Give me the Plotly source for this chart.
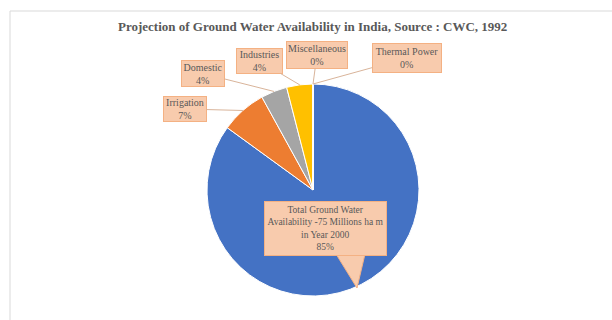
import math
import plotly.graph_objects as go

# ---- data ----
categories = ["Total Ground Water Availability -75 Millions ha m in Year 2000",
              "Irrigation", "Domestic", "Industries", "Miscellaneous", "Thermal Power"]
box_texts = ["Total Ground Water<br>Availability -75 Millions ha m<br>in Year 2000",
             "Irrigation", "Domestic", "Industries", "Miscellaneous", "Thermal Power"]
values = [85, 7, 4, 4, 0, 0]
colors = ["#4472C4", "#ED7D31", "#A5A5A5", "#FFC000", "#5B9BD5", "#70AD47"]
title = "Projection of Ground Water Availability in India, Source : CWC, 1992"

W, H = 612, 320
CX, CY, R = 313, 190, 106  # pie centre / radius in px


def px(x, y):
    return x / W, 1 - y / H


fig = go.Figure()
x0, y0 = px(CX - R, CY + R)
x1, y1 = px(CX + R, CY - R)
fig.add_trace(go.Pie(
    labels=categories, values=values, sort=False, direction="clockwise", rotation=0,
    marker=dict(colors=colors, line=dict(color="white", width=1)),
    textinfo="none", hoverinfo="label+percent", showlegend=False,
    domain=dict(x=[x0, x1], y=[y0, y1]),
))

total = sum(values)
pcts = [f"{round(v / total * 100)}%" for v in values]

# label box layout: centre px, width, height
box_layout = [
    (325.5, 228.5, 121, 53),
    (185, 109, 42, 24),
    (203, 73.5, 42, 25),
    (259.5, 61, 45, 24),
    (317, 55, 60, 26),
    (407, 58, 68, 28),
]

font = dict(family="Liberation Serif", size=10, color="#595959")
font_main = dict(family="Liberation Serif", size=9.5, color="#595959")
box_fill = "#F8CBAD"
box_line = "#F4B183"

cum = 0.0
for i, v in enumerate(values):
    mid = (cum + v / 2) / total
    cum += v
    bx, by, bw, bh = box_layout[i]
    text = f"{box_texts[i]}<br>{pcts[i]}"
    if i == 0:
        fx, fy = px(bx, by)
        fig.add_annotation(x=fx, y=fy, xref="paper", yref="paper", text=text,
                           showarrow=False, font=font_main, bgcolor=box_fill,
                           bordercolor=box_line, borderwidth=1, width=bw - 2, height=bh - 2,
                           xanchor="center", yanchor="middle")
        continue
    ang = mid * 2 * math.pi
    tx = CX + R * math.sin(ang)
    ty = CY - R * math.cos(ang)
    fx, fy = px(tx, ty)
    fig.add_annotation(x=fx, y=fy, xref="paper", yref="paper", text=text,
                       showarrow=True, arrowhead=0, arrowwidth=1, arrowcolor="#D9B49A",
                       ax=bx - tx, ay=by - ty, standoff=0, startstandoff=0,
                       font=font, bgcolor=box_fill, bordercolor=box_line, borderwidth=1,
                       width=bw - 2, height=bh - 2)

# callout pointer of the main label
p1 = px(336, 254)
p2 = px(357, 288)
p3 = px(365, 254)
fig.add_shape(type="path", xref="paper", yref="paper",
              path=f"M {p1[0]} {p1[1]} L {p2[0]} {p2[1]} L {p3[0]} {p3[1]} Z",
              fillcolor=box_fill, line=dict(color=box_line, width=1))

# chart frame
f0 = px(10, 11)
f1 = px(640, 340)
fig.add_shape(type="rect", xref="paper", yref="paper", x0=f0[0], y0=f0[1], x1=f1[0], y1=f1[1],
              line=dict(color="#D9D9D9", width=1), fillcolor="rgba(0,0,0,0)", layer="below")

tx_, ty_ = px(312.5, 26)
fig.add_annotation(x=tx_, y=ty_, xref="paper", yref="paper", text=f"<b>{title}</b>",
                   showarrow=False, font=dict(family="Liberation Serif", size=13, color="#595959"),
                   xanchor="center", yanchor="middle")

fig.update_layout(width=W, height=H, margin=dict(l=0, r=0, t=0, b=0),
                  paper_bgcolor="white", plot_bgcolor="white")
fig.write_html("out.html")
